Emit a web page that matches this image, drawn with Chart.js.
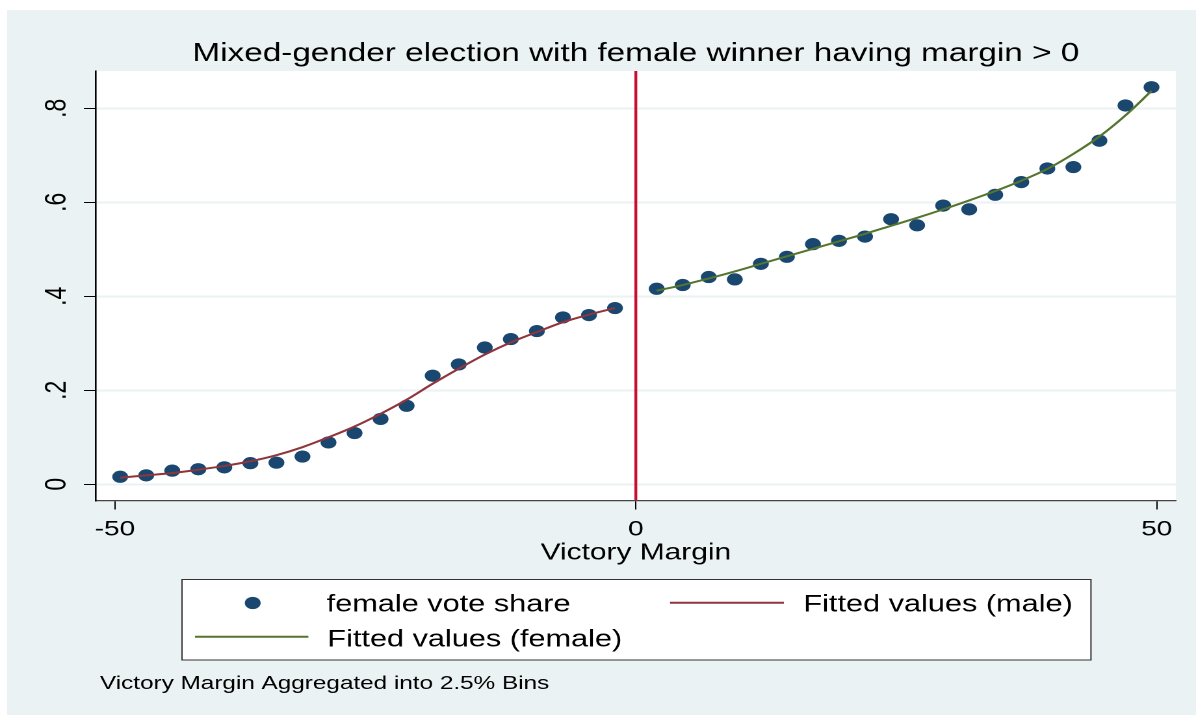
<!DOCTYPE html>
<html><head><meta charset="utf-8">
<script src="https://cdn.jsdelivr.net/npm/chart.js@4"></script>
<style>
html,body{margin:0;padding:0;background:#fff;overflow:hidden;}
#wrap{position:absolute;left:0;top:0;width:920px;height:715px;transform:scaleX(1.3);transform-origin:0 0;}
</style></head><body>
<div id="wrap"><canvas id="c" width="920" height="715"></canvas></div>
<script>
const chartTitle = 'Mixed-gender election with female winner having margin > 0';
const xAxisTitle = 'Victory Margin';
const noteText = 'Victory Margin Aggregated into 2.5% Bins';
const seriesNames = ['female vote share', 'Fitted values (male)', 'Fitted values (female)'];

const xLeft = [-49.5,-47,-44.5,-42,-39.5,-37,-34.5,-32,-29.5,-27,-24.5,-22,-19.5,-17,-14.5,-12,-9.5,-7,-4.5,-2];
const shareLeft = [0.016,0.019,0.029,0.032,0.036,0.045,0.046,0.059,0.089,0.109,0.139,0.167,0.231,0.255,0.291,0.309,0.326,0.355,0.360,0.375];
const fitMale = [0.014,0.019,0.024,0.031,0.039,0.049,0.062,0.079,0.100,0.123,0.150,0.180,0.214,0.246,0.276,0.302,0.324,0.345,0.361,0.375];

const xRight = [2,4.5,7,9.5,12,14.5,17,19.5,22,24.5,27,29.5,32,34.5,37,39.5,42,44.5,47,49.5];
const shareRight = [0.416,0.424,0.441,0.436,0.469,0.484,0.511,0.518,0.527,0.564,0.551,0.593,0.585,0.616,0.643,0.672,0.675,0.731,0.806,0.845];
const fitFemale = [0.412,0.424,0.438,0.453,0.469,0.485,0.501,0.517,0.533,0.550,0.567,0.585,0.604,0.624,0.646,0.671,0.703,0.740,0.785,0.837];

const xTicks = [-50, 0, 50];
const xTickLabels = ['-50', '0', '50'];
const yTicks = [0, 0.2, 0.4, 0.6, 0.8];
const yTickLabels = ['0', '.2', '.4', '.6', '.8'];
const cutoff = 0;

const FONT = '"Liberation Sans", Arial, Helvetica, sans-serif';
const C_BG = '#eaf2f3', C_NAVY = '#1a476f', C_MALE = '#90353b', C_FEMALE = '#55752f', C_CUT = '#c8102e';

const pts = (xs, ys) => xs.map((x, i) => ({x: x, y: ys[i]}));

const decor = {
  id: 'decor',
  beforeDraw(chart) {
    const {ctx, chartArea: a} = chart;
    ctx.save();
    ctx.fillStyle = '#fff'; ctx.fillRect(0, 0, chart.width, chart.height);
    ctx.fillStyle = C_BG; ctx.fillRect(5.4, 10, chart.width - 5.4, 705);
    ctx.fillStyle = '#fff'; ctx.fillRect(a.left, a.top, a.right - a.left, a.bottom - a.top);
    ctx.restore();
  },
  beforeDatasetsDraw(chart) {
    const {ctx, chartArea: a, scales: {x}} = chart;
    const px = x.getPixelForValue(cutoff);
    ctx.save();
    ctx.strokeStyle = C_CUT; ctx.lineWidth = 2.2;
    ctx.beginPath(); ctx.moveTo(px, a.top); ctx.lineTo(px, a.bottom); ctx.stroke();
    ctx.restore();
  },
  afterDraw(chart) {
    const {ctx, chartArea: a, scales: {y}} = chart;
    const ds = chart.data.datasets;
    ctx.save();
    // title
    ctx.fillStyle = '#000';
    ctx.font = '25.6px ' + FONT;
    ctx.textAlign = 'center'; ctx.textBaseline = 'alphabetic';
    ctx.fillText(chartTitle, (a.left + a.right) / 2, 61);
    // y tick labels (rotated)
    ctx.font = '23px ' + FONT;
    y.ticks.forEach((t, i) => {
      const py = y.getPixelForValue(t.value);
      ctx.save();
      ctx.translate(44, py);
      ctx.rotate(-Math.PI / 2);
      ctx.textAlign = 'center'; ctx.textBaseline = 'middle';
      ctx.fillText(yTickLabels[i], 0, 0);
      ctx.restore();
    });
    // legend box
    ctx.fillStyle = '#fff';
    ctx.fillRect(140, 579.5, 699.2, 80.5);
    ctx.strokeStyle = '#333'; ctx.lineWidth = 1;
    ctx.strokeRect(140, 579.5, 699.2, 80.5);
    // entry 1: markers
    ctx.fillStyle = ds[0].backgroundColor;
    ctx.beginPath(); ctx.arc(194.4, 603, ds[0].pointRadius, 0, Math.PI * 2); ctx.fill();
    // entry 2: male line
    ctx.strokeStyle = ds[1].borderColor; ctx.lineWidth = ds[1].borderWidth;
    ctx.beginPath(); ctx.moveTo(515.4, 602.7); ctx.lineTo(603, 602.7); ctx.stroke();
    // entry 3: female line
    ctx.strokeStyle = ds[2].borderColor; ctx.lineWidth = ds[2].borderWidth;
    ctx.beginPath(); ctx.moveTo(150, 636.7); ctx.lineTo(237.2, 636.7); ctx.stroke();
    ctx.fillStyle = '#000';
    ctx.font = '23.6px ' + FONT;
    ctx.textAlign = 'left'; ctx.textBaseline = 'alphabetic';
    ctx.fillText(ds[0].label, 251.3, 611.5);
    ctx.fillText(ds[1].label, 618, 611.5);
    ctx.fillText(ds[2].label, 251.8, 646.5);
    // note
    ctx.font = '18.7px ' + FONT;
    ctx.fillText(noteText, 76.9, 689);
    ctx.restore();
  }
};

new Chart(document.getElementById('c'), {
  type: 'scatter',
  data: {
    datasets: [
      {
        label: seriesNames[0],
        data: pts(xLeft.concat(xRight), shareLeft.concat(shareRight)),
        backgroundColor: C_NAVY, borderColor: C_NAVY,
        pointRadius: 6.1, pointBorderWidth: 0, pointHoverRadius: 6.1,
        showLine: false, order: 3
      },
      {
        label: seriesNames[1],
        data: pts(xLeft, fitMale),
        borderColor: C_MALE, backgroundColor: C_MALE, borderWidth: 2,
        pointRadius: 0, showLine: true, cubicInterpolationMode: 'monotone', order: 1
      },
      {
        label: seriesNames[2],
        data: pts(xRight, fitFemale),
        borderColor: C_FEMALE, backgroundColor: C_FEMALE, borderWidth: 2,
        pointRadius: 0, showLine: true, cubicInterpolationMode: 'monotone', order: 2
      }
    ]
  },
  options: {
    responsive: false,
    animation: false,
    devicePixelRatio: 2,
    layout: {padding: {top: 71, right: 15.4, bottom: 144.5, left: 0}},
    plugins: {legend: {display: false}, title: {display: false}, tooltip: {enabled: false}},
    events: [],
    scales: {
      x: {
        type: 'linear', min: -51.85, max: 51.85,
        afterBuildTicks: s => { s.ticks = xTicks.map(v => ({value: v})); },
        afterFit: s => { s.height = 70; },
        ticks: {
          font: {family: FONT, size: 21.5}, color: '#000', padding: 7,
          autoSkip: false, maxRotation: 0, minRotation: 0,
          callback: (v, i) => xTickLabels[i]
        },
        grid: {drawOnChartArea: false, drawTicks: true, tickLength: 9, tickColor: '#000', tickWidth: 1},
        border: {display: true, color: '#444', width: 1.2},
        title: {display: true, text: xAxisTitle, color: '#000', font: {family: FONT, size: 23}, padding: {top: 0, bottom: 3.6}}
      },
      y: {
        type: 'linear', min: -0.0345, max: 0.8794,
        afterBuildTicks: s => { s.ticks = yTicks.map(v => ({value: v})); },
        afterFit: s => { s.width = 73.6; },
        ticks: {display: false},
        grid: {color: C_BG, lineWidth: 2, drawTicks: true, tickLength: 9, tickColor: '#000', tickWidth: 1},
        border: {display: true, color: '#000', width: 1.3}
      }
    }
  },
  plugins: [decor]
});
</script>
</body></html>
